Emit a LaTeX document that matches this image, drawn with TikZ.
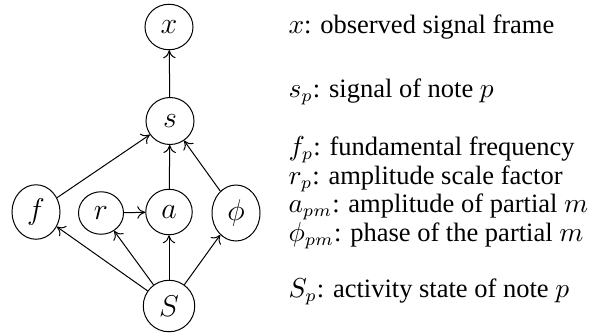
\documentclass[tikz,border=0pt]{standalone}
\usepackage{fontspec}
\newfontfamily\lgdfont{Liberation Serif}
\usetikzlibrary{arrows.meta,shapes.geometric,positioning}
\tikzset{
  var/.style={draw,ellipse,inner sep=0pt,minimum width=18.6pt,minimum height=18.2pt,font=\fontsize{11.5}{13}\selectfont},
  tallvar/.style={var,minimum width=19.2pt,minimum height=21.8pt},
  arr/.style={-{To[length=3.2pt,width=5pt]}},
  lgd/.style={anchor=base west,inner sep=0pt,font=\lgdfont\fontsize{10.6}{13}\selectfont}
}
\begin{document}
\begin{tikzpicture}[x=0.4pt,y=-0.4pt]
  \useasboundingbox (0,0) rectangle (592,333);
  % Variables
  \node[var,minimum width=19.2pt] (x) at (169,27) {$x$};
  \node[var,minimum width=19.2pt,minimum height=18.8pt] (s) at (170,121) {$s$};
  \node[tallvar] (f) at (36,212) {$f$};
  \node[var,minimum width=18pt,minimum height=17pt] (r) at (101,213) {$r$};
  \node[var] (a) at (169,212) {$a$};
  \node[tallvar,minimum height=22.4pt] (phi) at (236,213) {$\phi$};
  \node[var,minimum width=20.6pt,minimum height=20.6pt] (S) at (169,306) {$S$};

  % Dependencies
  \draw[arr] (s) -- (x);
  \foreach \p in {f,a,phi}
    \draw[arr] (\p) -- (s);
  \draw[arr] (r) -- (a);
  \foreach \c in {f,r,a,phi}
    \draw[arr] (S) -- (\c);

  % Legend
  \node[lgd] (lx) at (288,33) {$x$: observed signal frame};
  \node[lgd] (ls) at (288,97) {$s_p$: signal of note $p$};
  \node[lgd] (lf) at (288,155) {$f_p$: fundamental frequency};
  \node[lgd] (lr) at (288,184) {$r_p$: amplitude scale factor};
  \node[lgd] (la) at (288,212) {$a_{pm}$: amplitude of partial $m$};
  \node[lgd] (lphi) at (288,241) {$\phi_{pm}$: phase of the partial $m$};
  \node[lgd] (lS) at (288,297) {$S_p$: activity state of note $p$};
\end{tikzpicture}
\end{document}
